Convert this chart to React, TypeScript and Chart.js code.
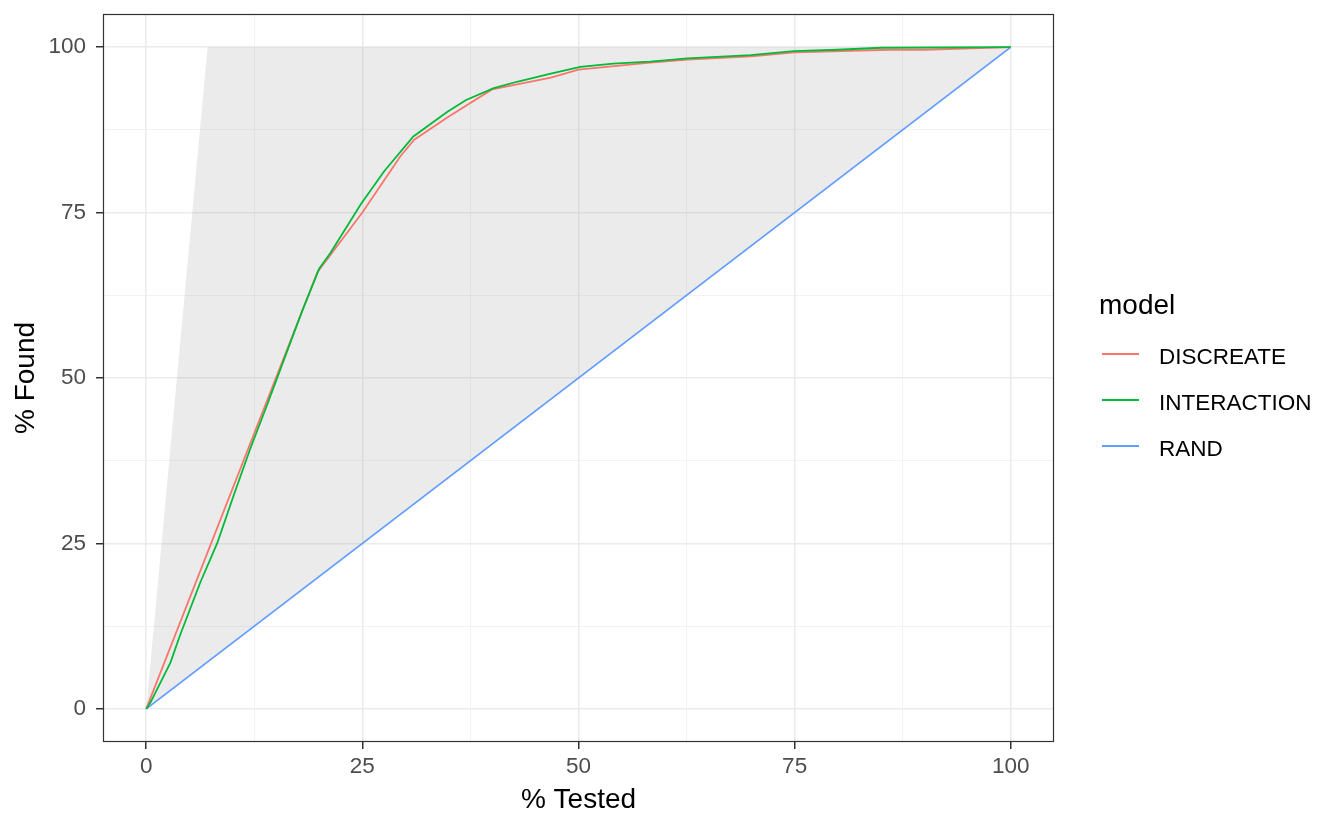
import React, { useEffect, useRef } from "react";
import { Chart, registerables } from "chart.js";

Chart.register(...registerables);

const seriesNames = ["DISCREATE", "INTERACTION", "RAND"];
const seriesColors = ["#F8766D", "#00BA38", "#619CFF"];

const discreateX = [0, 19.8, 25, 29.4, 31, 35, 40, 46.8, 50, 58, 62.6, 70, 75, 86, 90, 100];
const discreateY = [0, 66, 75, 83.5, 86, 89.5, 93.6, 95.4, 96.6, 97.6, 98.1, 98.6, 99.2, 99.6, 99.6, 100];

const interactionX = [0, 0.5, 2.8, 3.9, 6.25, 8.2, 8.6, 10.1, 12, 14, 16, 18, 20, 21.3, 24.8, 27.5, 30.9, 34.8, 37, 40.2, 43, 46.8, 50.2, 54, 58.3, 62.6, 69.9, 74.9, 80, 85, 100];
const interactionY = [0, 1, 7, 11.1, 19.1, 25, 26.5, 32.2, 39.2, 46, 53, 60, 66.5, 68.9, 76.2, 81.2, 86.5, 90.2, 92, 93.8, 94.8, 96, 97, 97.5, 97.8, 98.3, 98.8, 99.4, 99.6, 99.9, 100];

const randX = [0, 100];
const randY = [0, 100];

const bandX = [0, 7.1, 100, 0];
const bandY = [0, 100, 100, 0];

const tickValues = [0, 12.5, 25, 37.5, 50, 62.5, 75, 87.5, 100];
const axisMin = -5;
const axisMax = 105;

const zip = (xs: number[], ys: number[]) => xs.map((x, i) => ({ x, y: ys[i] }));

const FONT = "'Liberation Sans', Arial, sans-serif";
const TICK_SIZE = 22.5;
const TITLE_SIZE = 28;

const isMajor = (v: number) => v % 25 === 0;

const frameAndLegend = {
  id: "frameAndLegend",
  afterDraw(chart: any) {
    const { ctx, chartArea } = chart;
    ctx.save();
    ctx.strokeStyle = "#333333";
    ctx.lineWidth = 1.2;
    ctx.strokeRect(
      Math.round(chartArea.left) + 0.5,
      Math.round(chartArea.top) + 0.5,
      Math.round(chartArea.right - chartArea.left) - 1,
      Math.round(chartArea.bottom - chartArea.top) - 1
    );
    // legend
    ctx.fillStyle = "#000000";
    ctx.textBaseline = "alphabetic";
    ctx.textAlign = "left";
    ctx.font = `${TITLE_SIZE}px ${FONT}`;
    ctx.fillText("model", 1099, 314);
    ctx.font = `${TICK_SIZE}px ${FONT}`;
    seriesNames.forEach((name, i) => {
      const y = 354 + i * 46;
      ctx.strokeStyle = seriesColors[i];
      ctx.lineWidth = 1.8;
      ctx.beginPath();
      ctx.moveTo(1102, y);
      ctx.lineTo(1139, y);
      ctx.stroke();
      ctx.fillStyle = "#000000";
      ctx.fillText(name, 1159, y + 9.5);
    });
    ctx.restore();
  },
};

export default function App() {
  const ref = useRef<HTMLCanvasElement | null>(null);
  useEffect(() => {
    if (!ref.current) return;
    const gridOpts = {
      color: (c: any) => (isMajor(c.tick?.value ?? 0) ? "#EBEBEB" : "#EFEFEF"),
      lineWidth: (c: any) => (isMajor(c.tick?.value ?? 0) ? 1.5 : 0.8),
      tickColor: (c: any) => (isMajor(c.tick?.value ?? 0) ? "#333333" : "rgba(0,0,0,0)"),
      tickLength: 7,
      tickWidth: 1.5,
      drawTicks: true,
    };
    const setTicks = (scale: any) => {
      scale.ticks = tickValues.map((v) => ({ value: v }));
    };
    const chart = new Chart(ref.current, {
      type: "scatter",
      data: {
        datasets: [
          {
            label: "INTERACTION",
            data: zip(interactionX, interactionY),
            borderColor: seriesColors[1],
            borderWidth: 1.8,
            showLine: true,
            pointRadius: 0,
            fill: false,
            order: 1,
          },
          {
            label: "DISCREATE",
            data: zip(discreateX, discreateY),
            borderColor: seriesColors[0],
            borderWidth: 1.8,
            showLine: true,
            pointRadius: 0,
            fill: false,
            order: 2,
          },
          {
            label: "RAND",
            data: zip(randX, randY),
            borderColor: seriesColors[2],
            borderWidth: 1.8,
            showLine: true,
            pointRadius: 0,
            fill: false,
            order: 3,
          },
          {
            label: "band",
            data: zip(bandX, bandY),
            borderColor: "rgba(0,0,0,0)",
            borderWidth: 0,
            backgroundColor: "rgba(170,170,170,0.23)",
            showLine: true,
            pointRadius: 0,
            fill: "shape",
            order: 10,
          } as any,
        ],
      },
      options: {
        responsive: false,
        animation: false,
        layout: { padding: { top: 14, right: 290, left: 0, bottom: 0 } },
        plugins: {
          legend: { display: false },
          tooltip: { enabled: false },
        },
        scales: {
          x: {
            type: "linear",
            min: axisMin,
            max: axisMax,
            afterBuildTicks: setTicks,
            afterFit: (s: any) => {
              s.height = 88;
              s.paddingLeft = 0;
              s.paddingRight = 0;
              s.paddingTop = 0;
              s.paddingBottom = 0;
            },
            grid: gridOpts as any,
            border: { display: false },
            ticks: {
              autoSkip: false,
              maxRotation: 0,
              padding: 4,
              color: "#4D4D4D",
              font: { family: FONT, size: TICK_SIZE },
              callback: (v: any) => (isMajor(Number(v)) ? String(v) : ""),
            },
            title: {
              display: true,
              text: "% Tested",
              color: "#000000",
              font: { family: FONT, size: TITLE_SIZE },
              padding: { top: 0, bottom: 13 },
            },
          },
          y: {
            type: "linear",
            min: axisMin,
            max: axisMax,
            afterBuildTicks: setTicks,
            afterFit: (s: any) => {
              s.width = 103;
              s.paddingLeft = 0;
              s.paddingRight = 0;
              s.paddingTop = 0;
              s.paddingBottom = 0;
            },
            grid: gridOpts as any,
            border: { display: false },
            ticks: {
              autoSkip: false,
              padding: 10,
              color: "#4D4D4D",
              font: { family: FONT, size: TICK_SIZE },
              callback: (v: any) => (isMajor(Number(v)) ? String(v) : ""),
            },
            title: {
              display: true,
              text: "% Found",
              color: "#000000",
              font: { family: FONT, size: TITLE_SIZE },
              padding: { top: 9, bottom: 0 },
            },
          },
        },
      },
      plugins: [frameAndLegend],
    });
    return () => chart.destroy();
  }, []);
  return (
    <div style={{ position: "fixed", left: 0, top: 0, width: 1344, height: 830, background: "#ffffff" }}>
      <canvas ref={ref} width={1344} height={830} />
    </div>
  );
}
